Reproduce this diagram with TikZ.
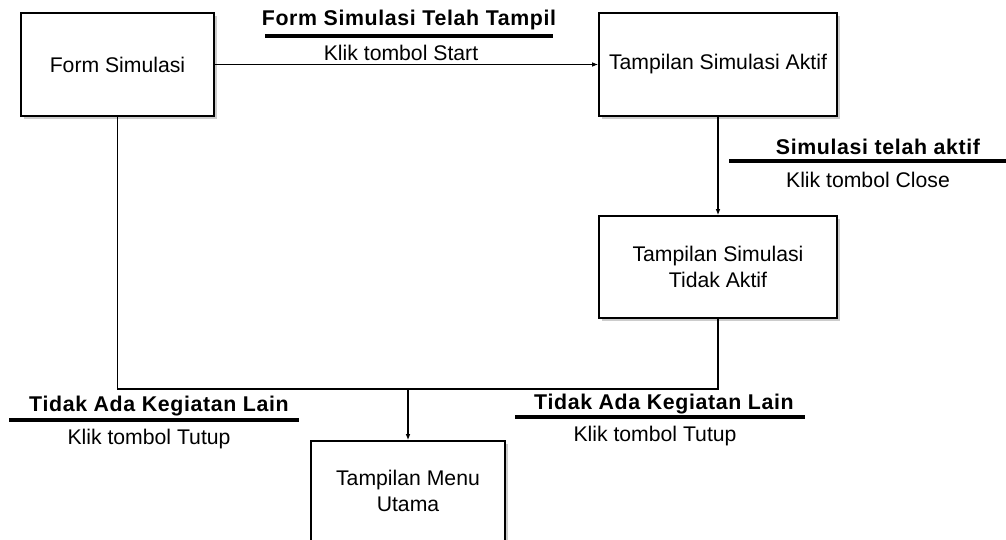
\documentclass[tikz,border=0pt]{standalone}
\usepackage{fontspec}
\setmainfont{Liberation Sans}
\usetikzlibrary{arrows.meta,shadows}
\begin{document}
\begin{tikzpicture}[x=0.75pt,y=-0.75pt,
  font=\fontsize{15.9}{19.5}\selectfont,
  statebox/.style={draw=black,line width=1.2pt,fill=white,align=center,
    inner sep=0pt,
    drop shadow={shadow xshift=2.3pt,shadow yshift=-2.3pt,fill=black!20,opacity=1}},
  link/.style={line width=1.2pt,draw=black},
  arrowlink/.style={link,-{Latex[length=4.5pt,width=3.5pt]}},
  title/.style={font=\fontsize{16}{19.5}\selectfont\bfseries\addfontfeature{LetterSpace=3},inner sep=0pt},
  action/.style={inner sep=0pt},
  underline/.style={line width=2.4pt,draw=black}]
\useasboundingbox (0,0) rectangle (1006,539);
\clip (0,0) rectangle (1006,539);

% states
\node[statebox,minimum width=144.75pt,minimum height=77.25pt] (fs) at (117.5,64.5) {Form Simulasi};
\node[statebox,minimum width=178.5pt,minimum height=77.25pt] (tsa) at (718,64.5) {Tampilan Simulasi Aktif};
\node[statebox,minimum width=178.5pt,minimum height=76.5pt] (tsta) at (718,267) {Tampilan Simulasi\\Tidak Aktif};
\node[statebox,minimum width=145.5pt,minimum height=75pt] (tmu) at (408,491) {Tampilan Menu\\Utama};

% junction points of the return path
\coordinate (jl) at (fs.south |- 0,389);
\coordinate (jr) at (tsta.south |- 0,389);
\coordinate (jm) at (tmu.north |- 0,389);

% transitions
\draw[arrowlink] (fs.east) -- (tsa.west);
\draw[arrowlink] (tsa.south) -- (tsta.north);
\draw[link] (fs.south) -- (jl) -- (jr) -- (tsta.south);
\draw[arrowlink] (jm) -- (tmu.north);

% transition labels
\node[title] (t1) at (409,20) {Form Simulasi Telah Tampil};
\draw[underline] (265,36) -- (553,36);
\node[action] (a1) at (401,53) {Klik tombol Start};

\node[title] (t2) at (878,147) {Simulasi telah aktif};
\draw[underline] (729,161) -- (1006,161);
\node[action] (a2) at (868,180) {Klik tombol Close};

\node[title] (t3) at (159,406) {Tidak Ada Kegiatan Lain};
\draw[underline] (9,420) -- (299,420);
\node[action] (a3) at (149,439) {Klik tombol Tutup};

\node[title] (t4) at (664,404) {Tidak Ada Kegiatan Lain};
\draw[underline] (515,417) -- (805,417);
\node[action] (a4) at (655,436) {Klik tombol Tutup};
\end{tikzpicture}
\end{document}
